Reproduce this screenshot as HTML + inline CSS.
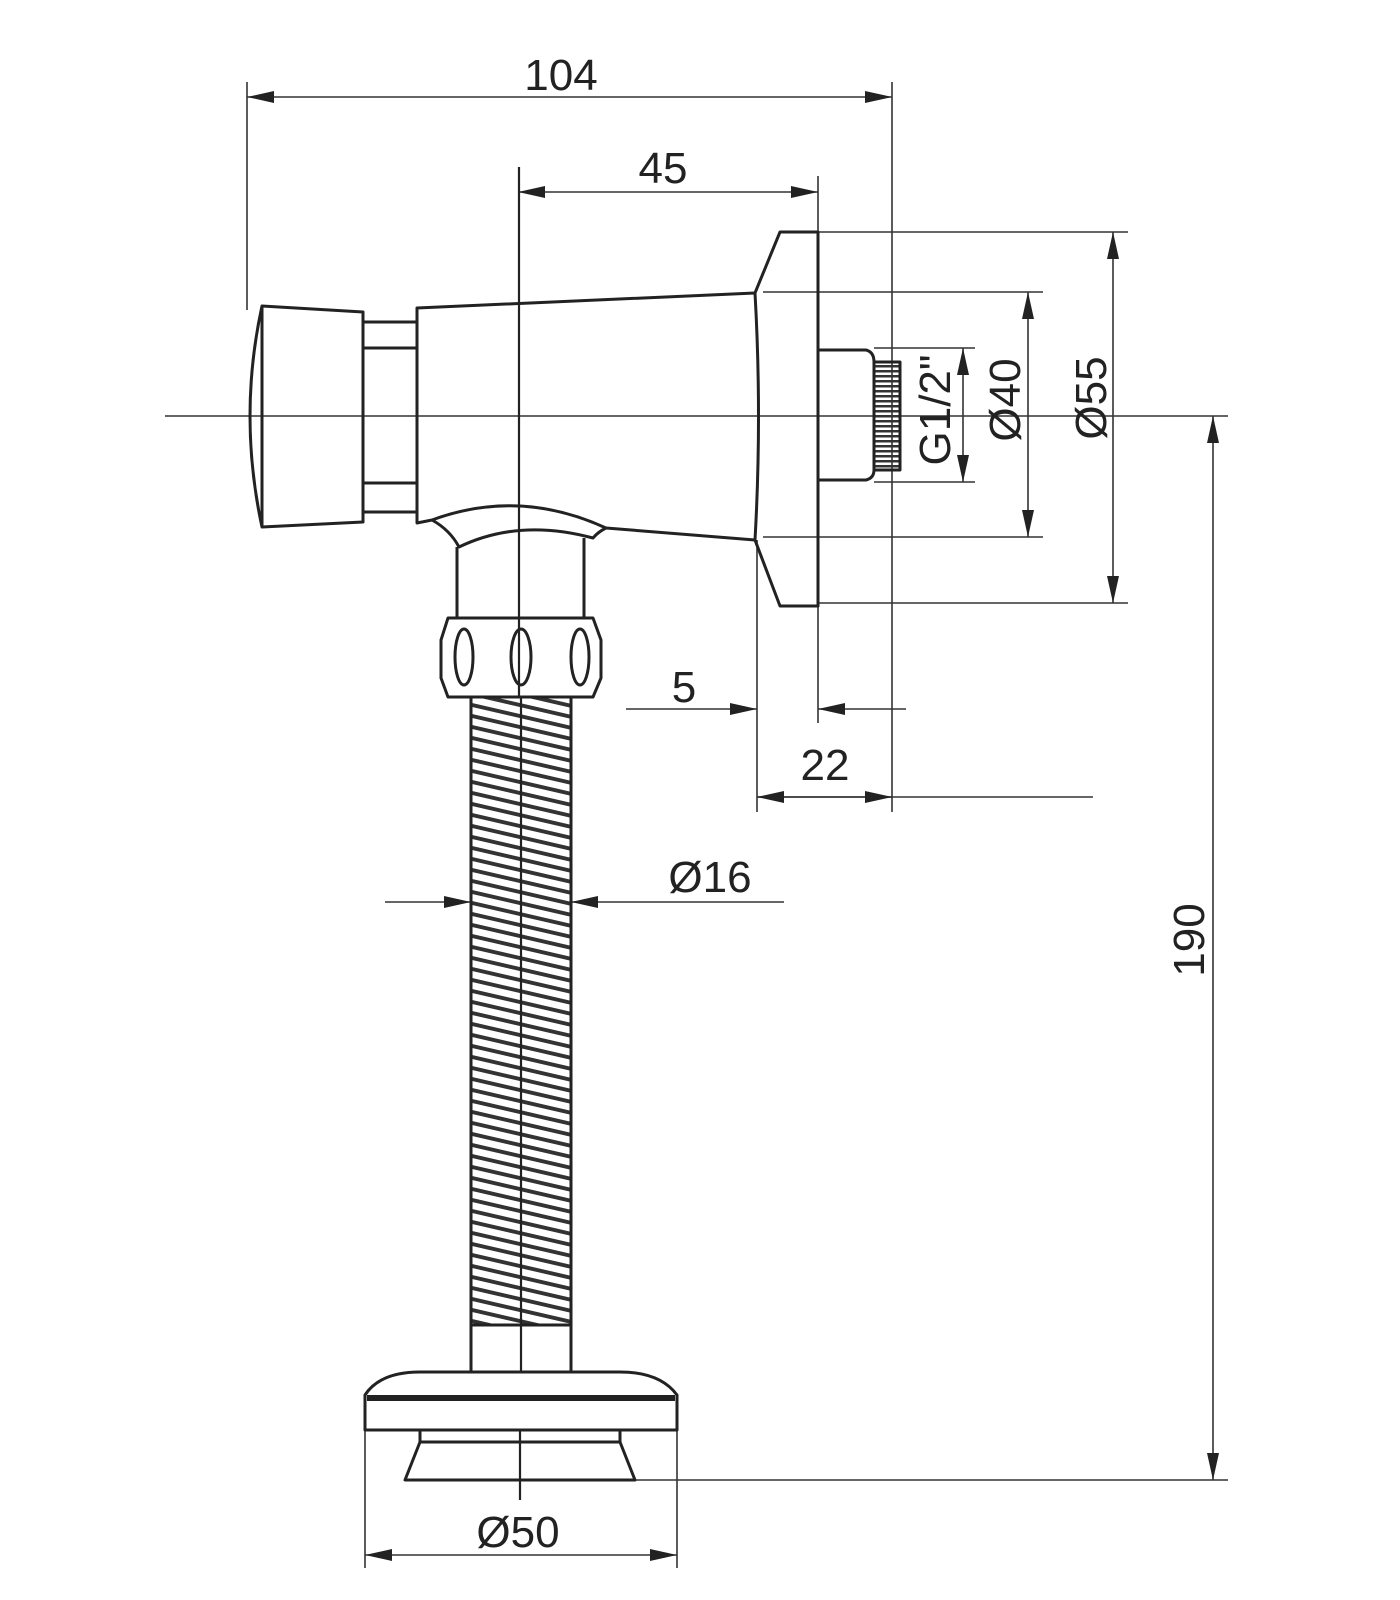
<!DOCTYPE html>
<html><head><meta charset="utf-8"><style>
html,body{margin:0;padding:0;background:#fff;}
svg{display:block;}
text{font-family:"Liberation Sans","DejaVu Sans",sans-serif;font-size:44px;fill:#222;}
</style></head><body>
<svg width="1400" height="1600" viewBox="0 0 1400 1600" xmlns="http://www.w3.org/2000/svg">
<defs>
<marker id="a" markerUnits="userSpaceOnUse" markerWidth="28" markerHeight="12" refX="27" refY="6" orient="auto-start-reverse">
<path d="M0,0 L27,6 L0,12 z" fill="#222"/>
</marker>
<pattern id="hose" patternUnits="userSpaceOnUse" width="50" height="11" patternTransform="skewY(13)">
<rect x="0" y="0" width="50" height="4" fill="#333"/>
</pattern>
<pattern id="thr" patternUnits="userSpaceOnUse" width="26" height="5">
<rect x="0" y="0" width="26" height="2.5" fill="#333"/>
</pattern>
</defs>

<g stroke="#333" stroke-width="1.6" fill="none">
<!-- 104 -->
<line x1="247" y1="82" x2="247" y2="310"/>
<line x1="892" y1="82" x2="892" y2="812"/>
<line x1="247" y1="97" x2="892" y2="97" marker-start="url(#a)" marker-end="url(#a)"/>
<!-- 45 -->
<line x1="818" y1="176" x2="818" y2="723"/>
<line x1="518" y1="192" x2="818" y2="192" marker-start="url(#a)" marker-end="url(#a)"/>
<!-- centerline -->
<line x1="165" y1="416" x2="1228" y2="416"/>
<!-- right dims -->
<line x1="818" y1="232" x2="1128" y2="232"/>
<line x1="818" y1="603" x2="1128" y2="603"/>
<line x1="1113" y1="232" x2="1113" y2="603" marker-start="url(#a)" marker-end="url(#a)"/>
<line x1="763" y1="292" x2="1043" y2="292"/>
<line x1="763" y1="537" x2="1043" y2="537"/>
<line x1="1028" y1="292" x2="1028" y2="537" marker-start="url(#a)" marker-end="url(#a)"/>
<line x1="874" y1="348" x2="975" y2="348"/>
<line x1="874" y1="482" x2="975" y2="482"/>
<line x1="963" y1="348" x2="963" y2="482" marker-start="url(#a)" marker-end="url(#a)"/>
<!-- 190 -->
<line x1="1213" y1="416" x2="1213" y2="1480" marker-start="url(#a)" marker-end="url(#a)"/>
<line x1="620" y1="1480" x2="1228" y2="1480"/>
<!-- 5 / 22 -->
<line x1="757" y1="540" x2="757" y2="812"/>
<line x1="626" y1="709" x2="757" y2="709" marker-end="url(#a)"/>
<line x1="906" y1="709" x2="818" y2="709" marker-end="url(#a)"/>
<line x1="757" y1="797" x2="1093" y2="797"/>
<line x1="825" y1="797" x2="757" y2="797" marker-end="url(#a)"/>
<line x1="825" y1="797" x2="892" y2="797" marker-end="url(#a)"/>
<!-- 16 -->
<line x1="385" y1="902" x2="471" y2="902" marker-end="url(#a)"/>
<line x1="784" y1="902" x2="571" y2="902" marker-end="url(#a)"/>
<!-- 50 -->
<line x1="365" y1="1430" x2="365" y2="1568"/>
<line x1="677" y1="1430" x2="677" y2="1568"/>
<line x1="365" y1="1555" x2="677" y2="1555" marker-start="url(#a)" marker-end="url(#a)"/>
</g>

<!-- hose fill -->
<rect x="471" y="697" width="100" height="628" fill="url(#hose)"/>
<rect x="874" y="362" width="26" height="108" fill="url(#thr)"/>

<g stroke="#222" stroke-width="3" fill="none" stroke-linejoin="round">
<!-- knob -->
<path d="M262,306 L363,312 L363,522 L262,527 Q238,416 262,306 Z"/>
<line x1="262" y1="306" x2="262" y2="527"/>
<line x1="363" y1="322" x2="417" y2="322"/>
<line x1="363" y1="348" x2="417" y2="348"/>
<line x1="363" y1="483" x2="417" y2="483"/>
<line x1="363" y1="512" x2="417" y2="512"/>
<!-- body -->
<path d="M417,308 L755,293 Q762,416 755,540 L606,528 Q519,488 432,520 L417,523 Z"/>
<path d="M755,293 L780,232 L818,232 L818,606 L780,606 L755,540"/>
<!-- stub -->
<path d="M818,350 L866,350 Q874,352 874,362 L874,470 Q874,478 866,480 L818,480"/>
<rect x="874" y="362" width="26" height="108"/>
<!-- elbow -->
<path d="M432,520 Q450,530 459,547 Q519,518 593,538 Q598,532 606,528"/>
<line x1="457" y1="547" x2="457" y2="618"/>
<line x1="584" y1="538" x2="584" y2="618"/>
<!-- nut -->
<path d="M448,618 L593,618 L601,640 L601,678 L593,697 L448,697 L441,678 L441,640 Z"/>
<ellipse cx="464" cy="657" rx="9" ry="28"/>
<ellipse cx="521" cy="657" rx="10" ry="28"/>
<ellipse cx="580" cy="657" rx="9" ry="28"/>
<!-- hose -->
<line x1="471" y1="697" x2="471" y2="1372"/>
<line x1="571" y1="697" x2="571" y2="1372"/>
<line x1="471" y1="1325" x2="571" y2="1325"/>
<!-- base -->
<path d="M365,1395 Q380,1372 420,1372 L620,1372 Q660,1372 677,1395 L677,1430 L365,1430 Z"/>
<line x1="367" y1="1398" x2="675" y2="1398" stroke-width="6"/>
<path d="M420,1430 L420,1442 L405,1480 L635,1480 L620,1442 L620,1430"/>
<line x1="420" y1="1442" x2="620" y2="1442"/>
</g>
<g stroke="#222" stroke-width="2.2">
<line x1="519" y1="167" x2="519" y2="697"/>
<line x1="521" y1="697" x2="521" y2="1372"/>
<line x1="520" y1="1430" x2="520" y2="1500"/>
</g>

<text x="561" y="90" text-anchor="middle">104</text>
<text x="663" y="183" text-anchor="middle">45</text>
<text x="684" y="702" text-anchor="middle">5</text>
<text x="825" y="780" text-anchor="middle">22</text>
<text x="710" y="892" text-anchor="middle">Ø16</text>
<text x="518" y="1547" text-anchor="middle">Ø50</text>
<text transform="translate(950,410) rotate(-90)" text-anchor="middle">G1/2"</text>
<text transform="translate(1020,400) rotate(-90)" text-anchor="middle">Ø40</text>
<text transform="translate(1106,398) rotate(-90)" text-anchor="middle">Ø55</text>
<text transform="translate(1204,940) rotate(-90)" text-anchor="middle">190</text>
</svg>
</body></html>
